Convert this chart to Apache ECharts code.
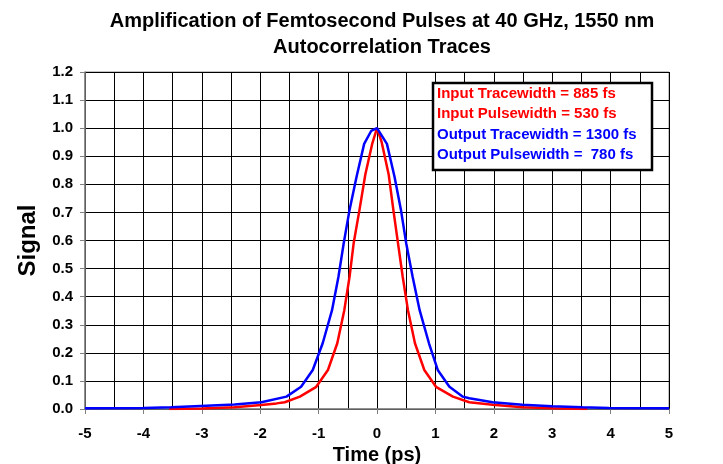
<!DOCTYPE html>
<html>
<head>
<meta charset="utf-8">
<script src="https://cdn.jsdelivr.net/npm/echarts@6/dist/echarts.min.js"></script>
<style>
  html, body { margin: 0; padding: 0; background: #fff; }
  #chart { width: 723px; height: 464px; }
</style>
</head>
<body>
<div id="chart"></div>
<script>
// autocorrelation traces, time in ps
var inputTime = [-3.56, -3.0, -2.44, -1.98, -1.72, -1.58, -1.32, -1.04, -0.84, -0.68, -0.56, -0.47, -0.40, -0.30, -0.20, -0.08, 0, 0.08, 0.20, 0.28, 0.36, 0.44, 0.53, 0.65, 0.81, 1.01, 1.30, 1.58, 1.98, 2.49, 3.0, 3.6]
var inputSignal = [0.0, 0.002, 0.006, 0.014, 0.02, 0.024, 0.044, 0.079, 0.139, 0.234, 0.352, 0.471, 0.59, 0.709, 0.835, 0.946, 1.0, 0.95, 0.835, 0.709, 0.59, 0.471, 0.352, 0.234, 0.139, 0.079, 0.044, 0.024, 0.015, 0.006, 0.003, 0.0]

var outputTime = [-5, -4, -3.53, -3.02, -2.44, -1.98, -1.55, -1.30, -1.10, -0.93, -0.77, -0.66, -0.57, -0.47, -0.35, -0.22, -0.1, 0, 0.17, 0.30, 0.41, 0.50, 0.61, 0.73, 0.89, 1.04, 1.24, 1.47, 1.58, 1.98, 2.49, 3.0, 3.52, 3.97, 5]
var outputSignal = [0.003, 0.004, 0.006, 0.011, 0.016, 0.024, 0.044, 0.079, 0.139, 0.234, 0.352, 0.471, 0.59, 0.709, 0.827, 0.944, 0.99, 1.0, 0.944, 0.827, 0.709, 0.59, 0.471, 0.352, 0.234, 0.139, 0.079, 0.044, 0.038, 0.024, 0.015, 0.01, 0.006, 0.004, 0.003]

var boxLines = [
  { text: 'Input Tracewidth = 885 fs', color: '#ff0000' },
  { text: 'Input Pulsewidth = 530 fs', color: '#ff0000' },
  { text: 'Output Tracewidth = 1300 fs', color: '#0000ff' },
  { text: 'Output Pulsewidth =  780 fs', color: '#0000ff' }
]

function pairs(xs, ys) {
  return xs.map(function(x, i) { return [x, ys[i]] })
}

var font = 'Liberation Sans, Arial, sans-serif'
var chart = echarts.init(document.getElementById('chart'))

var graphics = [
  {
    type: 'rect',
    shape: { x: 433, y: 83, width: 219, height: 87 },
    style: { fill: '#fff', stroke: '#000', lineWidth: 2.5 },
    z: 100
  }
]
boxLines.forEach(function(l, i) {
  graphics.push({
    type: 'text',
    x: 437,
    y: 94 + i * 20.2,
    style: {
      text: l.text,
      fill: l.color,
      font: 'bold 15px ' + font,
      verticalAlign: 'middle'
    },
    z: 101
  })
})

chart.setOption({
  animation: false,
  title: {
    text: 'Amplification of Femtosecond Pulses at 40 GHz, 1550 nm\nAutocorrelation Traces',
    left: 377,
    top: 3,
    textAlign: 'center',
    textStyle: {
      fontFamily: font,
      fontWeight: 'bold',
      fontSize: 20,
      lineHeight: 26,
      color: '#000'
    }
  },
  grid: {
    left: 85,
    right: 54,
    top: 72,
    bottom: 55,
    containLabel: false,
    outerBoundsMode: 'none',
    show: true,
    borderColor: '#888',
    borderWidth: 1
  },
  xAxis: {
    type: 'value',
    min: -5,
    max: 5,
    interval: 1,
    name: 'Time (ps)',
    nameLocation: 'middle',
    nameGap: 34,
    nameTextStyle: { fontFamily: font, fontWeight: 'bold', fontSize: 20, color: '#000' },
    axisLine: { onZero: false, lineStyle: { color: '#808080', width: 1.5 } },
    axisTick: { show: true, length: 5, lineStyle: { color: '#808080' } },
    axisLabel: { fontFamily: font, fontWeight: 'bold', fontSize: 15, color: '#000', margin: 17 },
    splitLine: { show: true, lineStyle: { color: '#000', width: 1 } },
    minorTick: { show: false, splitNumber: 2 },
    minorSplitLine: { show: true, lineStyle: { color: '#000', width: 1 } }
  },
  yAxis: {
    type: 'value',
    min: 0,
    max: 1.2,
    interval: 0.1,
    name: 'Signal',
    nameLocation: 'middle',
    nameGap: 45,
    nameTextStyle: { fontFamily: font, fontWeight: 'bold', fontSize: 24, color: '#000' },
    axisLine: { show: true, onZero: false, lineStyle: { color: '#808080', width: 1.5 } },
    axisTick: { show: true, length: 5, lineStyle: { color: '#808080' } },
    axisLabel: {
      fontFamily: font, fontWeight: 'bold', fontSize: 15, color: '#000', margin: 12,
      formatter: function(v) { return v.toFixed(1) }
    },
    splitLine: { show: true, lineStyle: { color: '#000', width: 1 } }
  },
  series: [
    {
      name: 'Input',
      type: 'line',
      data: pairs(inputTime, inputSignal),
      showSymbol: false,
      lineStyle: { color: '#ff0000', width: 2.5 },
      z: 3
    },
    {
      name: 'Output',
      type: 'line',
      data: pairs(outputTime, outputSignal),
      showSymbol: false,
      lineStyle: { color: '#0000ff', width: 2.5 },
      z: 4
    }
  ],
  graphic: graphics
})
</script>
</body>
</html>
